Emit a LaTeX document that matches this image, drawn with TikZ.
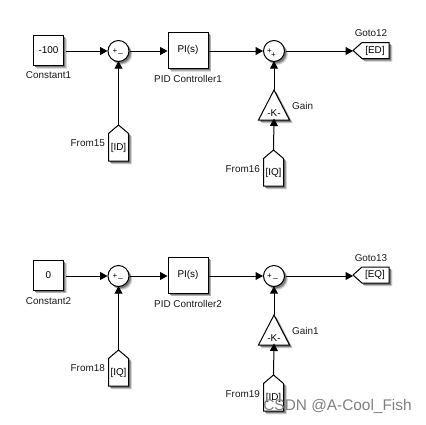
\documentclass[tikz,border=0pt]{standalone}
\usepackage{fontspec}
\setmainfont{Liberation Sans}
\usetikzlibrary{arrows.meta,calc}
\newcommand{\lblfont}{\fontsize{9.9}{11}\selectfont}
\tikzset{
  blockstyle/.style={draw=black,line width=1pt,fill=white},
  blockbox/.style={blockstyle,inner sep=0pt,font=\lblfont},
  sumblock/.style={blockstyle,circle,minimum size=21pt,inner sep=0pt},
  tagtext/.style={inner sep=0pt,font=\lblfont,text=black!90},
  signtext/.style={inner sep=0pt,font=\fontsize{8}{9}\selectfont},
  anchorbox/.style={inner sep=0pt,font=\lblfont},
  wire/.style={line width=1pt,-{Triangle[length=7.5pt,width=8pt]}},
  watermark/.style={inner sep=0pt,font=\fontsize{15.4}{17}\selectfont,text=black!50}
}
\newcommand{\softshade}[1]{%
  \fill[black!14,shift={(3.4,3.4)}] #1;
  \fill[black!30,shift={(2.6,2.6)}] #1;
  \fill[black!52,shift={(1.8,1.8)}] #1;}
% name, centre x, centre y, width, height, text
\newcommand{\boxblock}[6]{
  \softshade{(#2-#4/2,#3-#5/2) rectangle (#2+#4/2,#3+#5/2)}
  \node[blockbox,minimum width=#4 pt,minimum height=#5 pt] (#1) at (#2,#3) {#6};
}
% name, centre x, centre y
\newcommand{\sumblk}[3]{
  \softshade{(#2,#3) circle[radius=10.5]}
  \node[sumblock] (#1) at (#2,#3) {};
}
% name, centre x, apex y, text
\newcommand{\fromblock}[4]{
  \softshade{(#2,#3) -- (#2+10,#3+8.5) -- (#2+10,#3+36) -- (#2-10,#3+36) -- (#2-10,#3+8.5) -- cycle}
  \draw[blockstyle,line join=miter] (#2,#3) -- (#2+10,#3+8.5) -- (#2+10,#3+36) -- (#2-10,#3+36) -- (#2-10,#3+8.5) -- cycle;
  \coordinate (#1top) at (#2,#3);
  \node[anchorbox,minimum width=20pt,minimum height=27pt] (#1) at (#2,#3+23) {#4};
}
% name, centre x, apex y
\newcommand{\gainblock}[3]{
  \softshade{(#2,#3) -- (#2+15.5,#3+30) -- (#2-15.5,#3+30) -- cycle}
  \draw[blockstyle,line join=miter] (#2,#3) -- (#2+15.5,#3+30) -- (#2-15.5,#3+30) -- cycle;
  \coordinate (#1top) at (#2,#3);
  \coordinate (#1bot) at (#2,#3+30);
  \node[anchorbox] (#1) at (#2,#3+23) {-K-};
}
% name, left x, centre y, text
\newcommand{\gotoblock}[4]{
  \softshade{(#2,#3) -- (#2+9,#3-8) -- (#2+36,#3-8) -- (#2+36,#3+8) -- (#2+9,#3+8) -- cycle}
  \draw[blockstyle,line join=miter] (#2,#3) -- (#2+9,#3-8) -- (#2+36,#3-8) -- (#2+36,#3+8) -- (#2+9,#3+8) -- cycle;
  \coordinate (#1tip) at (#2,#3);
  \node[anchorbox,minimum width=27pt,minimum height=16pt] (#1) at (#2+22,#3) {#4};
}
\begin{document}
\begin{tikzpicture}[x=1pt,y=-1pt]
\useasboundingbox (0,0) rectangle (426,424);
\fill[white] (0,0) rectangle (426,424);

% top row
\boxblock{c1}{48.5}{50.3}{30}{30}{-100}
\sumblk{s1}{118.5}{51}
\node[signtext] (s1a) at (115,51.5) {+};
\node[signtext] (s1b) at (120.5,53.5) {\_};
\boxblock{p1}{188}{50.3}{40}{36}{PI(s)}
\sumblk{s2}{274}{51}
\node[signtext] (s2a) at (269.5,51) {+};
\node[signtext] (s2b) at (273.5,55.5) {+};
\gotoblock{g1}{353}{50.5}{[ED]}
\fromblock{f15}{118.5}{125}{[ID]}
\gainblock{k1}{274}{90}
\fromblock{f16}{273.5}{150}{[IQ]}

\node[tagtext] (lc1) at (48.5,75.5) {Constant1};
\node[tagtext] (lp1) at (188,78.5) {PID Controller1};
\node[tagtext] (lg1) at (371,33) {Goto12};
\node[tagtext,anchor=east] (lf15) at (105,143.5) {From15};
\node[tagtext,anchor=west] (lk1) at (292,105.5) {Gain};
\node[tagtext,anchor=east] (lf16) at (260,169) {From16};

\draw[wire,shorten <=1.5pt] (c1.east |- s1.west) -- (s1.west);
\draw[wire,shorten <=.5pt] (s1.east) -- (p1.west |- s1.east);
\draw[wire] (p1.east |- s2.west) -- (s2.west);
\draw[wire,shorten <=.5pt] (s2.east) -- (s2.east -| g1tip);
\draw[wire,shorten >=-.8pt] (f15top) -- (s1.south);
\draw[wire,shorten >=-.8pt] (k1top) -- (s2.south);
\draw[wire,shorten >=-1.5pt] (f16top) -- (k1bot);

% bottom row
\boxblock{c2}{48.5}{275}{30}{30}{0}
\sumblk{s3}{118.5}{276}
\node[signtext] (s3a) at (115,276.5) {+};
\node[signtext] (s3b) at (120.5,278.5) {\_};
\boxblock{p2}{188}{275}{40}{36}{PI(s)}
\sumblk{s4}{274}{276}
\node[signtext] (s4a) at (269.5,276.5) {+};
\node[signtext] (s4b) at (275.5,278.5) {\_};
\gotoblock{g2}{353}{275}{[EQ]}
\fromblock{f18}{118.5}{350}{[IQ]}
\gainblock{k2}{274}{315}
\fromblock{f19}{273.5}{375}{[ID]}

\node[tagtext] (lc2) at (48.5,301) {Constant2};
\node[tagtext] (lp2) at (188,303.5) {PID Controller2};
\node[tagtext] (lg2) at (371,258.5) {Goto13};
\node[tagtext,anchor=east] (lf18) at (105,368.5) {From18};
\node[tagtext,anchor=west] (lk2) at (292,331) {Gain1};
\node[tagtext,anchor=east] (lf19) at (260,394) {From19};

\draw[wire,shorten <=1.5pt] (c2.east |- s3.west) -- (s3.west);
\draw[wire,shorten <=.5pt] (s3.east) -- (p2.west |- s3.east);
\draw[wire] (p2.east |- s4.west) -- (s4.west);
\draw[wire,shorten <=.5pt] (s4.east) -- (s4.east -| g2tip);
\draw[wire,shorten >=-.8pt] (f18top) -- (s3.south);
\draw[wire,shorten >=-.8pt] (k2top) -- (s4.south);
\draw[wire,shorten >=-1.5pt] (f19top) -- (k2bot);

\node[watermark] (wm) at (337.5,406) {CSDN @A-Cool\_Fish};
\end{tikzpicture}
\end{document}
